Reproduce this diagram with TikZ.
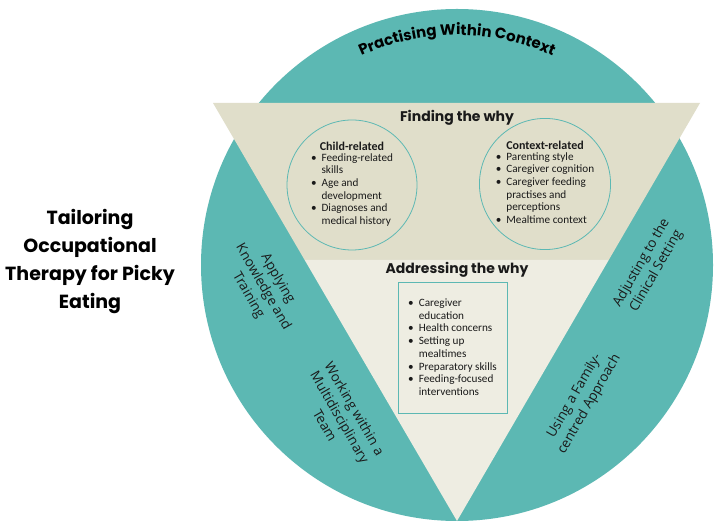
\documentclass[tikz,border=0pt]{standalone}
\usepackage{fontspec}
\setmainfont{Carlito}
\newfontfamily\popfont{Poppins}
\newfontfamily\opfont{Open Sans}
\usetikzlibrary{calc,positioning,decorations.text}
\definecolor{otTeal}{HTML}{5CB8B3}
\definecolor{otSand}{HTML}{E0DECA}
\definecolor{otCream}{HTML}{EEEDE2}
\definecolor{otInk}{HTML}{1A1A1A}
\tikzset{
  ring/.style={circle, draw=otTeal, line width=0.8pt, minimum size=130pt, inner sep=0pt, align=center, font=\fontsize{11.2}{12.7}\selectfont, text=otInk},
  listbox/.style={draw=otTeal, line width=1pt, minimum width=109pt, minimum height=131pt, inner sep=0pt, align=center, font=\fontsize{11.2}{12.7}\selectfont, text=otInk},
  head/.style={font=\popfont\bfseries\fontsize{14}{16}\selectfont, text=otInk},
  seg/.style={font=\opfont\fontsize{13.5}{17}\selectfont, align=center, text=otInk},
  ttl/.style={font=\popfont\bfseries\fontsize{19}{28}\selectfont, align=center, text=black},
}
\newcommand{\bl}{\textbullet}
\newcommand{\ringhead}[1]{{\bfseries\fontsize{12}{14}\selectfont #1}}

\begin{document}
\begin{tikzpicture}[x=1pt, y=1pt]
  \path[fill=white, use as bounding box] (0,0) rectangle (720,530);
  % outer circle
  \coordinate (ctr) at (457,265);
  \fill[otTeal] (ctr) circle[radius=256];
  % inverted triangle
  \coordinate (tl) at (213,427);
  \coordinate (tr) at (700,427);
  \coordinate (bt) at (457,9);
  \coordinate (sl) at ($(tl)!0.3756!(bt)$);
  \coordinate (sr) at ($(tr)!0.3756!(bt)$);
  \fill[otSand] (tl) -- (tr) -- (sr) -- (sl) -- cycle;
  \fill[otCream] (sl) -- (sr) -- (bt) -- cycle;
  % curved heading
  \path[decorate, decoration={text along path, text align=center,
    text={|\popfont\bfseries\fontsize{15}{18}\selectfont|Practising Within Context}}]
    ($(ctr)+(117:230)$) arc[start angle=117, end angle=63, radius=230];
  % title
  \node[ttl] (title) at (90,268) {Tailoring\\Occupational\\Therapy for Picky\\Eating};
  % finding the why
  \node[head] (findH) at (457,412) {Finding the why};
  \node[ring] (childC) at (352,345) {\ringhead{Child-related}\\[1pt]
    \begin{tabular}{@{}l@{\hspace{5pt}}l@{}}
      \bl & Feeding-related\\ & skills\\
      \bl & Age and\\ & development\\
      \bl & Diagnoses and\\ & medical history
    \end{tabular}};
  \node[ring] (ctxC) at (545,346) {\ringhead{Context-related}\\[1pt]
    \begin{tabular}{@{}l@{\hspace{5pt}}l@{}}
      \bl & Parenting style\\
      \bl & Caregiver cognition\\
      \bl & Caregiver feeding\\ & practises and\\ & perceptions\\
      \bl & Mealtime context
    \end{tabular}};
  % addressing the why
  \node[head] (addrH) at (457,260) {Addressing the why};
  \node[listbox] (addrB) at (452.5,181.5) {%
    \begin{tabular}{@{}l@{\hspace{5pt}}l@{}}
      \bl & Caregiver\\ & education\\
      \bl & Health concerns\\
      \bl & Setting up\\ & mealtimes\\
      \bl & Preparatory skills\\
      \bl & Feeding-focused\\ & interventions
    \end{tabular}};
  % side segments
  \node[seg, rotate=-60] (applyL) at (263,243) {Applying\\Knowledge and\\Training};
  \node[seg, rotate=-60] (teamL) at (340,113) {Working within a\\Multidisciplinary\\Team};
  \node[seg, rotate=60] (adjustL) at (649,263) {Adjusting to the\\Clinical Setting};
  \node[seg, rotate=60] (familyL) at (582,130) {Using a Family-\\centred Approach};
\end{tikzpicture}
\end{document}
